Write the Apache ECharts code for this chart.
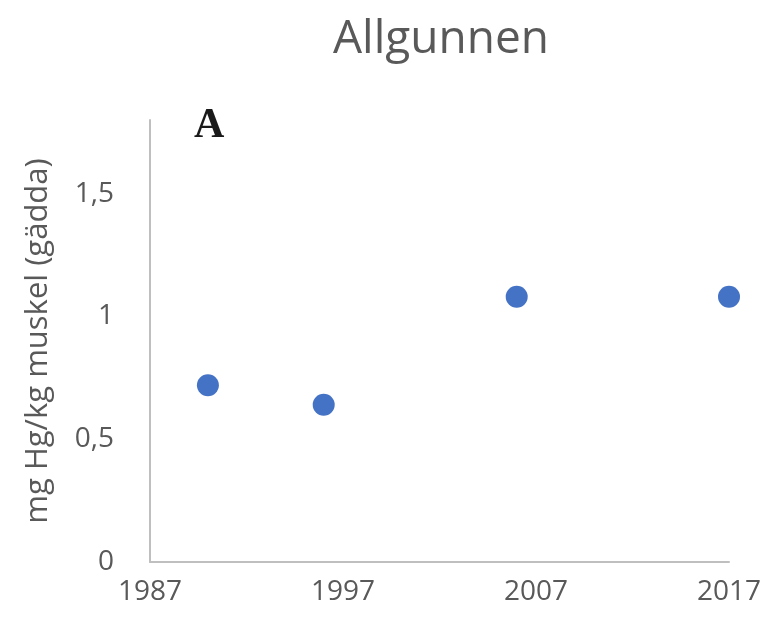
<!DOCTYPE html>
<html>
<head>
<meta charset="utf-8">
<script src="https://cdn.jsdelivr.net/npm/echarts@6/dist/echarts.min.js"></script>
<style>
  html, body { margin: 0; padding: 0; background: #fff; }
  #chart { width: 767px; height: 625px; }
</style>
</head>
<body>
<div id="chart"></div>
<script>
// data
var years = [1990, 1996, 2006, 2017];
var hgValues = [0.72, 0.64, 1.08, 1.08];
var xTicks = [1987, 1997, 2007, 2017];

var points = years.map(function (y, i) { return [y, hgValues[i]]; });

var chart = echarts.init(document.getElementById('chart'));
var grey = '#595959';
var font = 'Open Sans';

var option = {
    backgroundColor: '#fff',
    animation: false,
    title: [
        {
            text: 'Allgunnen',
            left: 436,
            top: 12,
            textAlign: 'center',
            textStyle: { fontFamily: font, fontSize: 46, fontWeight: 'normal', color: grey }
        },
        {
            text: 'A',
            left: 189,
            top: 100,
            textStyle: { fontFamily: 'Liberation Serif', fontSize: 42, fontWeight: 'bold', color: '#1a1a1a' }
        }
    ],
    grid: { left: 150, right: 38, top: 120, bottom: 63 },
    xAxis: {
        type: 'value',
        min: xTicks[0],
        max: xTicks[xTicks.length - 1],
        interval: 10,
        axisLine: { lineStyle: { color: '#bfbfbf', width: 2 } },
        axisTick: { show: false },
        splitLine: { show: false },
        axisLabel: {
            fontFamily: font, fontSize: 28, color: grey, margin: 16,
            formatter: function (v) { return String(v); }
        }
    },
    yAxis: {
        type: 'value',
        min: 0,
        max: 1.8,
        interval: 0.5,
        name: 'mg Hg/kg muskel (gädda)',
        nameLocation: 'middle',
        nameGap: 96,
        nameTextStyle: { fontFamily: font, fontSize: 31, color: grey },
        axisLine: { show: true, lineStyle: { color: '#bfbfbf', width: 2 } },
        axisTick: { show: false },
        splitLine: { show: false },
        axisLabel: {
            fontFamily: font, fontSize: 28, color: grey, margin: 36,
            showMaxLabel: false,
            formatter: function (v) { return String(v).replace('.', ','); }
        }
    },
    series: [
        {
            type: 'scatter',
            data: points,
            symbol: 'circle',
            symbolSize: 22,
            itemStyle: { color: '#4472c4', opacity: 1 }
        }
    ]
};

chart.setOption(option);
</script>
</body>
</html>
